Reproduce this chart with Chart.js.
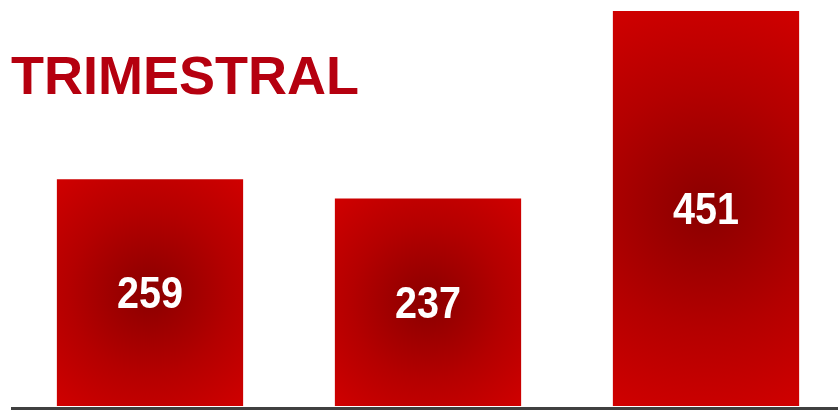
<!DOCTYPE html>
<html>
<head>
<meta charset="utf-8">
<script src="https://cdn.jsdelivr.net/npm/chart.js@4.4.1/dist/chart.umd.min.js"></script>
<style>
html,body{margin:0;padding:0;background:#fff;overflow:hidden;}
#wrap{position:relative;width:838px;height:410px;overflow:hidden;}
#box{position:absolute;left:0;top:0;width:846px;height:410px;}
#title{position:absolute;left:11px;top:43px;font-family:"Liberation Sans",Arial,sans-serif;font-weight:bold;font-size:54px;color:#b5000f;line-height:64px;}
</style>
</head>
<body>
<div id="wrap">
<div id="box"><canvas id="c" width="846" height="410"></canvas></div>
<div id="title">TRIMESTRAL</div>
</div>
<script>
const categories = ["T1", "T2", "T3"];
const values = [259, 237, 451];
const titleText = "TRIMESTRAL";
document.getElementById('title').textContent = titleText;

function barFill(ctx) {
  const chart = ctx.chart;
  const ca = chart.chartArea;
  if (!ca || !chart.scales.x || !chart.scales.y) return '#c00000';
  const i = ctx.dataIndex;
  const xs = chart.scales.x, ys = chart.scales.y;
  const cx = xs.getPixelForValue(i);
  const top = ys.getPixelForValue(values[i]);
  const base = ys.getPixelForValue(0);
  const w = xs.getPixelForValue(1) - xs.getPixelForValue(0);
  const bw = w * 0.67;
  const cy = (top + base) / 2;
  const h = base - top;
  const r = 0.5 * Math.sqrt(bw * bw + h * h);
  const g = chart.ctx.createRadialGradient(cx, cy, 0, cx, cy, r);
  g.addColorStop(0, '#8a0000');
  g.addColorStop(0.55, '#b40000');
  g.addColorStop(1, '#d00000');
  return g;
}

const labelsPlugin = {
  id: 'labelsPlugin',
  afterDatasetsDraw(chart) {
    const c = chart.ctx;
    const meta = chart.getDatasetMeta(0);
    const ys = chart.scales.y;
    c.save();
    c.strokeStyle = '#404040';
    c.lineWidth = 3;
    c.beginPath();
    const by = ys.getPixelForValue(0) + 2.5;
    c.moveTo(chart.chartArea.left, by);
    c.lineTo(chart.width, by);
    c.stroke();
    c.restore();
    meta.data.forEach((el, i) => {
      const cy = (el.y + el.base) / 2 + 3;
      c.save();
      c.translate(el.x, cy);
      c.scale(0.86, 0.97);
      c.fillStyle = '#ffffff';
      c.font = 'bold 46px "Liberation Sans", Arial, sans-serif';
      c.textAlign = 'center';
      c.textBaseline = 'middle';
      c.fillText(String(values[i]), 0, 0);
      c.restore();
    });
  }
};

new Chart(document.getElementById('c'), {
  type: 'bar',
  data: {
    labels: categories,
    datasets: [{
      data: values,
      backgroundColor: barFill,
      borderWidth: 0,
      barPercentage: 0.67,
      categoryPercentage: 1
    }]
  },
  options: {
    responsive: false,
    animation: false,
    layout: { padding: { left: 11, right: 1, top: 11, bottom: 4 } },
    plugins: { legend: { display: false }, tooltip: { enabled: false }, title: { display: false } },
    scales: {
      x: { display: false },
      y: { display: false, min: 0, max: Math.max(...values) }
    }
  },
  plugins: [labelsPlugin]
});
</script>
</body>
</html>
